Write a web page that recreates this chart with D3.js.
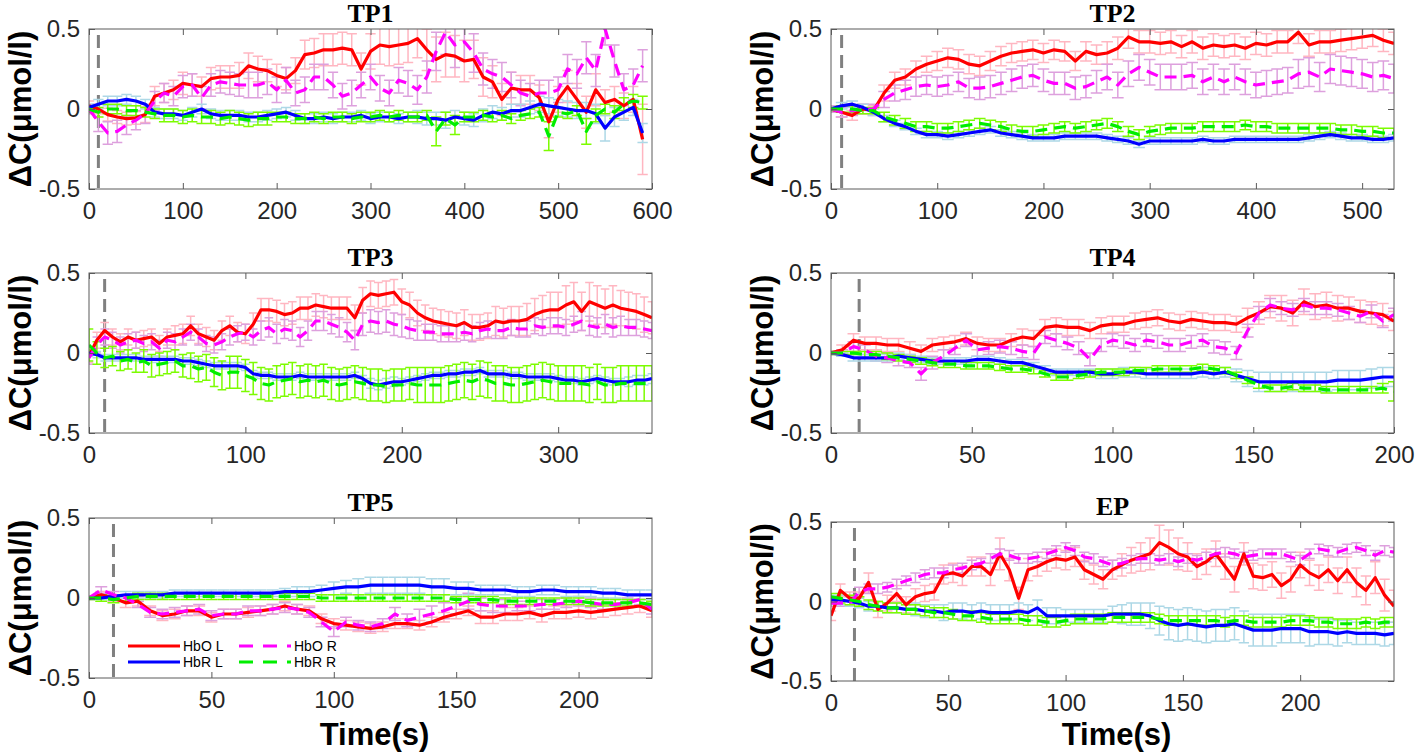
<!DOCTYPE html>
<html><head><meta charset="utf-8">
<script src="https://cdn.jsdelivr.net/npm/d3@7"></script>
<style>body{margin:0;background:#fff;} svg{display:block;}</style>
</head><body>
<script>
// ---------------- DATA ----------------
const panelTitles = ['TP1','TP2','TP3','TP4','TP5','EP'];
const timeSteps = [10,10,5,4,5,4];
const xMaxes = [600,530,360,200,230,240];
const xTickValues = [[0,100,200,300,400,500,600],[0,100,200,300,400,500],[0,100,200,300],[0,50,100,150,200],[0,50,100,150,200],[0,50,100,150,200]];
const yTickValues = [-0.5,0,0.5];
const stimulusTime = 10;
const seriesNames = ['HbO L','HbR L','HbO R','HbR R'];

// TP1 (t = 0..590, step 10)
const tp1HboL = [0.02,0.0,-0.035,-0.05,-0.06,-0.055,-0.035,0.08,0.1,0.12,
 0.16,0.15,0.14,0.19,0.2,0.2,0.21,0.27,0.25,0.24,
 0.21,0.19,0.24,0.34,0.35,0.37,0.37,0.38,0.37,0.25,
 0.36,0.4,0.39,0.4,0.41,0.44,0.37,0.31,0.34,0.33,
 0.3,0.31,0.2,0.17,0.06,0.13,0.12,0.12,0.07,-0.08,
 0.06,0.14,0.06,-0.02,0.12,0.04,0.06,0.02,0.06,-0.19];
const tp1HboLErr = [0.03,0.03,0.04,0.04,0.04,0.04,0.05,0.06,0.06,0.06,
 0.07,0.07,0.06,0.07,0.07,0.07,0.08,0.08,0.08,0.07,
 0.07,0.07,0.08,0.09,0.09,0.1,0.1,0.1,0.1,0.1,
 0.11,0.12,0.12,0.12,0.12,0.12,0.13,0.14,0.14,0.13,
 0.13,0.12,0.12,0.1,0.1,0.1,0.09,0.09,0.08,0.1,
 0.08,0.1,0.1,0.1,0.1,0.08,0.08,0.08,0.08,0.22];
const tp1HboR = [0.0,-0.08,-0.15,-0.14,-0.1,-0.07,-0.03,0.05,0.1,0.08,
 0.14,0.15,0.07,0.15,0.17,0.16,0.15,0.15,0.15,0.17,
 0.12,0.18,0.1,0.12,0.2,0.2,0.15,0.08,0.1,0.15,
 0.2,0.13,0.1,0.18,0.16,0.12,0.2,0.36,0.48,0.4,
 0.42,0.35,0.25,0.22,0.2,0.15,0.1,0.08,0.1,0.1,
 0.12,0.25,0.22,0.32,0.24,0.5,0.3,0.12,0.15,0.27];
const tp1HboRErr = [0.03,0.06,0.07,0.07,0.06,0.06,0.06,0.06,0.06,0.06,
 0.07,0.07,0.07,0.07,0.07,0.07,0.07,0.08,0.08,0.08,
 0.08,0.08,0.08,0.08,0.08,0.08,0.08,0.08,0.08,0.08,
 0.08,0.08,0.08,0.08,0.08,0.09,0.1,0.12,0.14,0.14,
 0.12,0.12,0.1,0.09,0.09,0.08,0.08,0.08,0.08,0.08,
 0.08,0.09,0.09,0.1,0.1,0.1,0.1,0.1,0.1,0.1];
const tp1HbrL = [0.01,0.03,0.05,0.05,0.06,0.05,0.03,-0.02,-0.03,-0.03,
 -0.04,-0.02,0.0,-0.03,-0.04,-0.04,-0.04,-0.05,-0.05,-0.04,
 -0.03,-0.02,-0.04,-0.06,-0.06,-0.05,-0.06,-0.05,-0.05,-0.04,
 -0.06,-0.05,-0.05,-0.06,-0.05,-0.05,-0.06,-0.06,-0.07,-0.05,
 -0.06,-0.07,-0.04,-0.02,-0.03,-0.01,-0.01,0.01,0.03,0.02,
 0.01,0.0,-0.01,-0.01,-0.03,-0.12,-0.05,-0.02,0.01,-0.15];
const tp1HbrLErr = [0.02,0.03,0.03,0.03,0.03,0.03,0.03,0.03,0.03,0.03,
 0.03,0.03,0.03,0.03,0.03,0.03,0.03,0.03,0.03,0.03,
 0.03,0.03,0.03,0.03,0.03,0.03,0.03,0.03,0.03,0.03,
 0.03,0.03,0.03,0.03,0.03,0.04,0.04,0.04,0.05,0.04,
 0.04,0.04,0.04,0.04,0.04,0.04,0.04,0.04,0.05,0.05,
 0.05,0.05,0.05,0.05,0.06,0.08,0.06,0.05,0.05,0.06];
const tp1HbrR = [0.0,-0.02,0.0,0.0,-0.01,-0.01,-0.02,-0.03,-0.04,-0.04,
 -0.05,-0.04,-0.05,-0.05,-0.06,-0.05,-0.06,-0.07,-0.06,-0.06,
 -0.05,-0.05,-0.06,-0.06,-0.05,-0.06,-0.05,-0.05,-0.06,-0.05,
 -0.05,-0.04,-0.05,-0.04,-0.05,-0.05,-0.04,-0.14,-0.06,-0.1,
 -0.05,-0.05,-0.04,-0.05,-0.04,-0.06,-0.04,-0.03,-0.02,-0.17,
 -0.02,-0.03,-0.01,-0.14,-0.04,0.0,-0.02,0.03,0.05,0.04];
const tp1HbrRErr = [0.02,0.03,0.03,0.03,0.03,0.03,0.03,0.03,0.04,0.04,
 0.04,0.04,0.04,0.04,0.04,0.04,0.04,0.04,0.04,0.04,
 0.03,0.03,0.03,0.03,0.03,0.03,0.03,0.03,0.03,0.03,
 0.03,0.03,0.03,0.03,0.03,0.03,0.03,0.09,0.04,0.06,
 0.03,0.03,0.03,0.03,0.03,0.03,0.03,0.03,0.03,0.09,
 0.03,0.03,0.03,0.08,0.04,0.03,0.04,0.04,0.04,0.04];

// TP2 (t = 0..530, step 10)
const tp2HboL = [0.0,-0.02,-0.04,0.0,-0.01,0.1,0.18,0.2,0.25,0.28,
 0.3,0.32,0.31,0.28,0.27,0.3,0.33,0.35,0.36,0.37,
 0.35,0.37,0.36,0.3,0.36,0.34,0.35,0.38,0.45,0.42,
 0.42,0.41,0.42,0.39,0.42,0.38,0.4,0.39,0.4,0.38,
 0.41,0.4,0.42,0.42,0.48,0.4,0.42,0.42,0.43,0.44,
 0.45,0.46,0.43,0.41];
const tp2HboLErr = [0.02,0.03,0.03,0.03,0.03,0.05,0.05,0.05,0.05,0.05,
 0.06,0.06,0.06,0.06,0.06,0.06,0.06,0.06,0.06,0.06,
 0.06,0.06,0.06,0.06,0.06,0.06,0.07,0.07,0.07,0.07,
 0.07,0.07,0.07,0.07,0.07,0.07,0.07,0.07,0.07,0.07,
 0.07,0.07,0.07,0.07,0.07,0.07,0.07,0.07,0.07,0.07,
 0.07,0.07,0.07,0.07];
const tp2HboR = [0.0,-0.02,-0.01,0.0,0.0,0.06,0.1,0.12,0.14,0.15,
 0.14,0.15,0.17,0.13,0.13,0.14,0.16,0.18,0.2,0.21,
 0.18,0.16,0.16,0.13,0.14,0.17,0.2,0.15,0.22,0.26,
 0.23,0.2,0.2,0.2,0.21,0.17,0.2,0.17,0.2,0.17,
 0.15,0.16,0.17,0.18,0.22,0.23,0.2,0.25,0.24,0.23,
 0.22,0.2,0.21,0.19];
const tp2HboRErr = [0.02,0.03,0.03,0.03,0.03,0.05,0.05,0.06,0.06,0.06,
 0.06,0.06,0.06,0.06,0.07,0.07,0.07,0.07,0.07,0.07,
 0.07,0.07,0.07,0.07,0.07,0.07,0.08,0.08,0.08,0.08,
 0.08,0.08,0.08,0.08,0.08,0.08,0.08,0.08,0.08,0.08,
 0.08,0.08,0.08,0.08,0.09,0.09,0.09,0.09,0.09,0.09,
 0.09,0.09,0.09,0.09];
const tp2HbrL = [0.0,0.02,0.03,0.01,-0.02,-0.06,-0.09,-0.11,-0.14,-0.16,
 -0.16,-0.17,-0.16,-0.15,-0.14,-0.13,-0.15,-0.16,-0.17,-0.18,
 -0.18,-0.18,-0.17,-0.17,-0.17,-0.17,-0.18,-0.19,-0.2,-0.22,
 -0.2,-0.2,-0.2,-0.2,-0.2,-0.19,-0.2,-0.2,-0.19,-0.19,
 -0.19,-0.19,-0.19,-0.19,-0.19,-0.18,-0.17,-0.16,-0.17,-0.18,
 -0.18,-0.19,-0.19,-0.18];
const tp2HbrLErr = [0.01,0.02,0.02,0.02,0.02,0.02,0.02,0.02,0.02,0.02,
 0.02,0.02,0.02,0.02,0.02,0.02,0.02,0.02,0.02,0.02,
 0.02,0.02,0.02,0.02,0.02,0.02,0.02,0.02,0.02,0.02,
 0.02,0.02,0.02,0.02,0.02,0.02,0.02,0.02,0.02,0.02,
 0.02,0.02,0.02,0.02,0.02,0.02,0.02,0.02,0.02,0.02,
 0.02,0.02,0.02,0.02];
const tp2HbrR = [0.0,0.0,0.0,-0.01,-0.01,-0.05,-0.07,-0.09,-0.11,-0.11,
 -0.12,-0.12,-0.11,-0.1,-0.09,-0.1,-0.11,-0.13,-0.14,-0.14,
 -0.13,-0.12,-0.11,-0.12,-0.11,-0.1,-0.09,-0.11,-0.14,-0.16,
 -0.14,-0.13,-0.12,-0.12,-0.12,-0.11,-0.11,-0.11,-0.11,-0.1,
 -0.11,-0.11,-0.12,-0.12,-0.12,-0.12,-0.12,-0.12,-0.13,-0.13,
 -0.14,-0.14,-0.15,-0.15];
const tp2HbrRErr = [0.01,0.02,0.02,0.02,0.02,0.03,0.03,0.03,0.03,0.03,
 0.03,0.03,0.03,0.03,0.03,0.03,0.03,0.03,0.03,0.03,
 0.03,0.03,0.03,0.03,0.03,0.03,0.03,0.03,0.03,0.03,
 0.03,0.03,0.03,0.03,0.03,0.03,0.03,0.03,0.03,0.03,
 0.03,0.03,0.03,0.03,0.03,0.03,0.03,0.03,0.03,0.03,
 0.03,0.03,0.03,0.03];

// TP3 (t = 0..360, step 5)
const tp3HboL = [-0.02,0.08,0.14,0.1,0.07,0.1,0.08,0.09,0.1,0.06,
 0.1,0.11,0.12,0.17,0.12,0.1,0.08,0.14,0.17,0.13,
 0.12,0.18,0.27,0.27,0.26,0.24,0.25,0.28,0.28,0.3,
 0.29,0.28,0.28,0.28,0.22,0.33,0.37,0.36,0.37,0.38,
 0.32,0.3,0.25,0.22,0.2,0.19,0.18,0.17,0.19,0.16,
 0.16,0.17,0.2,0.19,0.2,0.2,0.21,0.24,0.26,0.27,
 0.27,0.3,0.32,0.26,0.32,0.3,0.28,0.3,0.28,0.27,
 0.26,0.24,0.22];
const tp3HboLErr = [0.04,0.05,0.05,0.05,0.05,0.05,0.05,0.05,0.05,0.05,
 0.05,0.06,0.06,0.06,0.06,0.06,0.06,0.06,0.06,0.06,
 0.06,0.07,0.07,0.07,0.07,0.07,0.07,0.07,0.07,0.07,
 0.07,0.07,0.07,0.07,0.08,0.08,0.08,0.08,0.08,0.08,
 0.08,0.08,0.08,0.08,0.08,0.08,0.08,0.08,0.08,0.08,
 0.08,0.08,0.09,0.09,0.09,0.09,0.1,0.1,0.1,0.11,
 0.11,0.12,0.12,0.12,0.12,0.12,0.12,0.12,0.11,0.11,
 0.11,0.11,0.1];
const tp3HboR = [-0.03,0.05,0.1,0.08,0.05,0.07,0.08,0.06,0.07,0.03,
 0.08,0.07,0.1,0.13,0.1,0.06,0.05,0.07,0.1,0.12,
 0.13,0.1,0.14,0.16,0.12,0.15,0.14,0.1,0.14,0.2,
 0.2,0.18,0.16,0.13,0.08,0.18,0.2,0.19,0.2,0.18,
 0.17,0.15,0.14,0.13,0.13,0.12,0.12,0.12,0.13,0.12,
 0.14,0.15,0.14,0.14,0.16,0.15,0.15,0.17,0.16,0.17,
 0.17,0.16,0.18,0.2,0.17,0.16,0.18,0.16,0.17,0.16,
 0.16,0.15,0.14];
const tp3HboRErr = [0.04,0.05,0.05,0.05,0.05,0.05,0.05,0.05,0.05,0.05,
 0.05,0.05,0.05,0.05,0.05,0.05,0.05,0.05,0.05,0.05,
 0.05,0.05,0.06,0.06,0.06,0.06,0.06,0.06,0.06,0.06,
 0.06,0.06,0.06,0.06,0.06,0.07,0.07,0.07,0.07,0.07,
 0.07,0.06,0.06,0.05,0.05,0.05,0.05,0.05,0.05,0.05,
 0.05,0.05,0.05,0.05,0.05,0.05,0.05,0.05,0.05,0.05,
 0.05,0.05,0.05,0.06,0.06,0.06,0.06,0.06,0.06,0.05,
 0.05,0.05,0.05];
const tp3HbrL = [0.0,-0.01,-0.03,-0.03,-0.03,-0.03,-0.03,-0.04,-0.04,-0.04,
 -0.04,-0.04,-0.05,-0.05,-0.06,-0.07,-0.08,-0.08,-0.08,-0.08,
 -0.09,-0.13,-0.14,-0.14,-0.15,-0.15,-0.15,-0.14,-0.15,-0.15,
 -0.15,-0.15,-0.15,-0.15,-0.14,-0.16,-0.19,-0.2,-0.19,-0.18,
 -0.18,-0.17,-0.16,-0.15,-0.14,-0.14,-0.13,-0.13,-0.12,-0.12,
 -0.11,-0.13,-0.13,-0.13,-0.14,-0.14,-0.15,-0.15,-0.15,-0.15,
 -0.16,-0.17,-0.17,-0.18,-0.17,-0.16,-0.17,-0.18,-0.18,-0.18,
 -0.17,-0.17,-0.16];
const tp3HbrLErr = [0.02,0.02,0.02,0.02,0.02,0.02,0.02,0.02,0.02,0.02,
 0.02,0.02,0.02,0.02,0.02,0.02,0.02,0.02,0.02,0.02,
 0.02,0.02,0.02,0.02,0.02,0.02,0.02,0.02,0.02,0.02,
 0.02,0.02,0.02,0.02,0.02,0.02,0.03,0.03,0.03,0.03,
 0.02,0.02,0.02,0.02,0.02,0.02,0.02,0.02,0.02,0.02,
 0.02,0.02,0.02,0.02,0.02,0.02,0.02,0.02,0.02,0.02,
 0.02,0.02,0.02,0.02,0.02,0.02,0.02,0.02,0.02,0.03,
 0.03,0.03,0.03];
const tp3HbrR = [0.05,0.0,-0.03,-0.02,-0.05,-0.04,-0.06,-0.05,-0.08,-0.07,
 -0.06,-0.05,-0.08,-0.08,-0.1,-0.09,-0.12,-0.14,-0.12,-0.12,
 -0.14,-0.16,-0.19,-0.2,-0.18,-0.17,-0.16,-0.18,-0.17,-0.18,
 -0.17,-0.19,-0.2,-0.19,-0.18,-0.19,-0.2,-0.2,-0.21,-0.2,
 -0.2,-0.19,-0.2,-0.2,-0.2,-0.2,-0.19,-0.18,-0.17,-0.18,
 -0.16,-0.17,-0.19,-0.19,-0.2,-0.2,-0.19,-0.18,-0.17,-0.18,
 -0.19,-0.19,-0.19,-0.19,-0.2,-0.18,-0.2,-0.2,-0.19,-0.19,
 -0.19,-0.19,-0.19];
const tp3HbrRErr = [0.1,0.07,0.06,0.06,0.06,0.06,0.06,0.07,0.07,0.07,
 0.07,0.07,0.07,0.08,0.08,0.08,0.09,0.09,0.1,0.1,
 0.1,0.1,0.1,0.1,0.1,0.1,0.1,0.1,0.1,0.1,
 0.1,0.1,0.1,0.1,0.1,0.1,0.1,0.1,0.1,0.1,
 0.1,0.1,0.11,0.11,0.11,0.11,0.11,0.11,0.11,0.11,
 0.11,0.11,0.11,0.11,0.11,0.11,0.11,0.11,0.11,0.11,
 0.11,0.11,0.11,0.11,0.11,0.11,0.11,0.11,0.11,0.11,
 0.11,0.11,0.11];

// TP4 (t = 0..200, step 4)
const tp4HboL = [0,0.02,0.08,0.06,0.06,0.05,0.05,0.03,0.01,0.05,
 0.06,0.07,0.09,0.06,0.05,0.05,0.08,0.1,0.09,0.16,
 0.17,0.16,0.16,0.14,0.17,0.18,0.18,0.2,0.21,0.22,
 0.2,0.19,0.21,0.2,0.19,0.19,0.18,0.22,0.25,0.29,
 0.28,0.25,0.32,0.29,0.3,0.28,0.28,0.26,0.25,0.24,
 0.2];
const tp4HboLErr = [0.01,0.03,0.04,0.04,0.04,0.04,0.04,0.04,0.04,0.04,
 0.04,0.04,0.04,0.04,0.04,0.04,0.04,0.05,0.05,0.05,
 0.05,0.05,0.05,0.05,0.05,0.05,0.05,0.05,0.05,0.05,
 0.05,0.05,0.05,0.05,0.05,0.05,0.05,0.06,0.07,0.07,
 0.08,0.08,0.08,0.08,0.08,0.08,0.07,0.07,0.07,0.07,
 0.06];
const tp4HboR = [0,0.0,0.04,0.02,-0.02,-0.03,-0.05,-0.06,-0.13,-0.06,
 -0.02,0.03,0.08,0.02,0.03,0.04,0.03,0.01,0.0,0.1,
 0.08,0.06,0.03,-0.04,0.05,0.08,0.07,0.05,0.08,0.07,
 0.05,0.05,0.07,0.08,0.04,0.03,0.0,0.14,0.25,0.3,
 0.28,0.27,0.3,0.28,0.28,0.27,0.25,0.23,0.26,0.2,
 0.24];
const tp4HboRErr = [0.01,0.02,0.03,0.03,0.03,0.03,0.03,0.03,0.04,0.04,
 0.04,0.04,0.04,0.04,0.04,0.04,0.04,0.04,0.04,0.04,
 0.04,0.04,0.04,0.04,0.04,0.04,0.04,0.04,0.04,0.04,
 0.04,0.04,0.04,0.04,0.04,0.04,0.04,0.04,0.04,0.04,
 0.04,0.04,0.04,0.04,0.04,0.04,0.04,0.04,0.04,0.04,
 0.04];
const tp4HbrL = [0,-0.01,-0.03,-0.03,-0.03,-0.03,-0.02,-0.03,-0.04,-0.05,
 -0.05,-0.05,-0.05,-0.04,-0.04,-0.05,-0.06,-0.06,-0.08,-0.1,
 -0.12,-0.12,-0.12,-0.12,-0.13,-0.13,-0.12,-0.12,-0.13,-0.13,
 -0.13,-0.13,-0.13,-0.12,-0.13,-0.12,-0.14,-0.16,-0.18,-0.18,
 -0.18,-0.18,-0.18,-0.18,-0.18,-0.17,-0.17,-0.17,-0.16,-0.15,
 -0.15];
const tp4HbrLErr = [0.01,0.01,0.02,0.02,0.02,0.02,0.02,0.02,0.02,0.02,
 0.02,0.02,0.02,0.02,0.02,0.02,0.02,0.02,0.02,0.02,
 0.02,0.02,0.02,0.02,0.03,0.03,0.03,0.03,0.03,0.03,
 0.03,0.03,0.03,0.03,0.03,0.03,0.04,0.05,0.06,0.06,
 0.06,0.06,0.06,0.06,0.06,0.06,0.06,0.06,0.06,0.06,
 0.06];
const tp4HbrR = [0,0,0,-0.01,-0.01,-0.02,-0.03,-0.04,-0.05,-0.06,
 -0.07,-0.07,-0.08,-0.08,-0.08,-0.09,-0.1,-0.1,-0.11,-0.13,
 -0.15,-0.15,-0.14,-0.13,-0.12,-0.12,-0.12,-0.11,-0.11,-0.1,
 -0.1,-0.1,-0.1,-0.09,-0.1,-0.11,-0.14,-0.17,-0.2,-0.22,
 -0.22,-0.21,-0.22,-0.22,-0.23,-0.23,-0.23,-0.23,-0.23,-0.22,
 -0.24];
const tp4HbrRErr = [0.01,0.01,0.01,0.02,0.02,0.02,0.02,0.02,0.02,0.02,
 0.02,0.02,0.02,0.02,0.02,0.02,0.02,0.02,0.02,0.02,
 0.02,0.02,0.02,0.02,0.02,0.02,0.02,0.02,0.02,0.02,
 0.02,0.02,0.02,0.02,0.02,0.02,0.02,0.02,0.02,0.02,
 0.02,0.02,0.02,0.02,0.02,0.02,0.02,0.02,0.02,0.03,
 0.06];

// TP5 (t = 0..230, step 5)
const tp5HboL = [0,0.02,0.0,-0.03,-0.02,-0.08,-0.11,-0.1,-0.08,-0.08,
 -0.12,-0.1,-0.1,-0.09,-0.08,-0.07,-0.05,-0.07,-0.08,-0.13,
 -0.16,-0.17,-0.18,-0.19,-0.18,-0.16,-0.16,-0.17,-0.15,-0.12,
 -0.1,-0.08,-0.12,-0.12,-0.1,-0.1,-0.09,-0.11,-0.09,-0.09,
 -0.08,-0.09,-0.08,-0.07,-0.06,-0.05,-0.08];
const tp5HboLErr = [0.01,0.02,0.02,0.03,0.03,0.03,0.03,0.03,0.03,0.03,
 0.03,0.03,0.03,0.03,0.03,0.03,0.03,0.03,0.03,0.03,
 0.03,0.03,0.03,0.03,0.03,0.03,0.03,0.03,0.03,0.03,
 0.03,0.03,0.04,0.04,0.04,0.04,0.04,0.04,0.04,0.04,
 0.04,0.04,0.04,0.04,0.04,0.04,0.04];
const tp5HboR = [0,0.05,0.02,0.0,-0.04,-0.09,-0.1,-0.09,-0.08,-0.07,
 -0.11,-0.1,-0.1,-0.08,-0.08,-0.07,-0.06,-0.07,-0.09,-0.15,
 -0.21,-0.15,-0.17,-0.18,-0.16,-0.1,-0.14,-0.12,-0.1,-0.08,
 -0.05,-0.02,-0.04,-0.05,-0.05,-0.05,-0.05,-0.04,-0.04,-0.03,
 -0.02,-0.03,-0.04,-0.04,-0.03,-0.01,-0.07];
const tp5HboRErr = [0.01,0.02,0.02,0.02,0.02,0.03,0.03,0.03,0.03,0.03,
 0.03,0.03,0.03,0.03,0.03,0.03,0.03,0.03,0.03,0.03,
 0.03,0.03,0.03,0.03,0.03,0.04,0.04,0.05,0.05,0.05,
 0.05,0.05,0.04,0.04,0.04,0.03,0.03,0.03,0.03,0.03,
 0.03,0.03,0.03,0.03,0.03,0.03,0.03];
const tp5HbrL = [0,0,0.01,0.02,0.02,0.02,0.02,0.03,0.03,0.03,
 0.03,0.03,0.03,0.03,0.03,0.03,0.04,0.04,0.04,0.05,
 0.06,0.07,0.07,0.08,0.08,0.08,0.08,0.08,0.07,0.07,
 0.06,0.06,0.05,0.05,0.05,0.04,0.04,0.05,0.05,0.04,
 0.04,0.04,0.03,0.03,0.02,0.02,0.02];
const tp5HbrLErr = [0.01,0.01,0.01,0.02,0.02,0.02,0.02,0.02,0.02,0.02,
 0.02,0.02,0.02,0.02,0.02,0.02,0.02,0.03,0.03,0.03,
 0.04,0.04,0.05,0.05,0.05,0.05,0.05,0.05,0.05,0.05,
 0.04,0.04,0.03,0.03,0.03,0.03,0.03,0.03,0.03,0.03,
 0.03,0.03,0.03,0.03,0.03,0.03,0.03];
const tp5HbrR = [0,0,-0.01,0,0.01,0.01,0.01,0.01,0.01,0.01,
 0.01,0.01,0.01,0.01,0.01,0.01,0.01,0.01,0.01,0.0,
 0.0,0.0,0.0,0.0,0.0,0.0,0.0,0.0,0.0,0.0,
 -0.01,-0.01,-0.01,-0.01,-0.02,-0.02,-0.02,-0.02,-0.02,-0.02,
 -0.02,-0.03,-0.03,-0.03,-0.03,-0.03,-0.04];
const tp5HbrRErr = [0.01,0.02,0.02,0.02,0.02,0.02,0.02,0.02,0.02,0.02,
 0.02,0.02,0.02,0.02,0.02,0.02,0.02,0.02,0.02,0.02,
 0.02,0.02,0.02,0.02,0.02,0.02,0.02,0.02,0.02,0.02,
 0.02,0.02,0.02,0.02,0.02,0.02,0.02,0.02,0.02,0.02,
 0.02,0.02,0.02,0.02,0.02,0.02,0.02];

// EP (t = 0..240, step 4)
const epHboL = [-0.09,0.07,0.02,0.02,0.12,-0.05,-0.01,0.05,-0.02,0.03,
 0.05,0.06,0.17,0.18,0.16,0.22,0.22,0.17,0.3,0.2,
 0.02,0.2,0.22,0.25,0.27,0.26,0.28,0.2,0.17,0.14,
 0.2,0.23,0.26,0.28,0.3,0.37,0.34,0.3,0.28,0.22,
 0.25,0.3,0.22,0.14,0.3,0.16,0.15,0.17,0.1,0.14,
 0.23,0.18,0.15,0.2,0.13,0.2,0.12,0.07,0.15,0.04,
 -0.03];
const epHboLErr = [0.03,0.04,0.04,0.04,0.06,0.05,0.05,0.05,0.05,0.05,
 0.05,0.05,0.06,0.06,0.06,0.06,0.06,0.07,0.1,0.07,
 0.07,0.07,0.06,0.06,0.06,0.06,0.06,0.06,0.06,0.06,
 0.06,0.07,0.08,0.09,0.1,0.11,0.11,0.1,0.09,0.08,
 0.08,0.08,0.08,0.08,0.07,0.08,0.08,0.08,0.08,0.08,
 0.08,0.08,0.08,0.08,0.08,0.08,0.09,0.09,0.1,0.1,
 0.1];
const epHboR = [-0.01,-0.01,-0.01,0.06,0.08,0.08,0.09,0.11,0.13,0.15,
 0.17,0.18,0.18,0.2,0.21,0.23,0.24,0.27,0.3,0.29,
 0.27,0.27,0.28,0.3,0.32,0.34,0.32,0.28,0.27,0.25,
 0.23,0.24,0.26,0.27,0.27,0.26,0.27,0.25,0.27,0.26,
 0.28,0.3,0.31,0.3,0.28,0.29,0.3,0.3,0.3,0.28,
 0.26,0.3,0.33,0.32,0.31,0.33,0.34,0.32,0.29,0.32,
 0.31];
const epHboRErr = [0.02,0.02,0.02,0.03,0.03,0.03,0.03,0.03,0.03,0.03,
 0.03,0.03,0.03,0.03,0.03,0.03,0.03,0.03,0.03,0.03,
 0.03,0.03,0.03,0.03,0.03,0.03,0.03,0.03,0.03,0.03,
 0.03,0.03,0.03,0.03,0.03,0.03,0.03,0.03,0.03,0.03,
 0.03,0.03,0.03,0.03,0.03,0.03,0.03,0.03,0.03,0.03,
 0.03,0.03,0.03,0.03,0.03,0.03,0.03,0.03,0.03,0.03,
 0.03];
const epHbrL = [0.01,0.01,0.0,-0.01,-0.03,-0.03,-0.04,-0.04,-0.05,-0.05,
 -0.06,-0.06,-0.07,-0.06,-0.06,-0.07,-0.06,-0.07,-0.07,-0.07,
 -0.06,-0.07,-0.04,-0.09,-0.09,-0.09,-0.09,-0.09,-0.09,-0.09,
 -0.08,-0.08,-0.08,-0.08,-0.09,-0.12,-0.14,-0.15,-0.14,-0.15,
 -0.16,-0.15,-0.15,-0.14,-0.16,-0.18,-0.18,-0.18,-0.17,-0.17,
 -0.17,-0.19,-0.19,-0.19,-0.2,-0.19,-0.2,-0.2,-0.2,-0.21,
 -0.2];
const epHbrLErr = [0.03,0.03,0.03,0.03,0.03,0.03,0.03,0.03,0.03,0.04,
 0.04,0.04,0.05,0.05,0.05,0.05,0.05,0.05,0.05,0.05,
 0.05,0.05,0.05,0.05,0.05,0.04,0.04,0.04,0.04,0.04,
 0.05,0.06,0.07,0.07,0.08,0.09,0.1,0.1,0.1,0.1,
 0.1,0.1,0.1,0.1,0.1,0.1,0.1,0.1,0.09,0.09,
 0.09,0.09,0.08,0.08,0.08,0.07,0.07,0.07,0.07,0.07,
 0.07];
const epHbrR = [0.03,0.02,0.01,0.0,-0.02,-0.03,-0.04,-0.04,-0.05,-0.05,
 -0.06,-0.07,-0.07,-0.08,-0.09,-0.09,-0.1,-0.11,-0.11,-0.11,
 -0.11,-0.12,-0.12,-0.13,-0.13,-0.12,-0.11,-0.11,-0.11,-0.11,
 -0.1,-0.1,-0.1,-0.1,-0.1,-0.11,-0.12,-0.12,-0.12,-0.12,
 -0.12,-0.12,-0.13,-0.12,-0.12,-0.13,-0.13,-0.13,-0.13,-0.12,
 -0.12,-0.12,-0.13,-0.13,-0.14,-0.14,-0.14,-0.13,-0.14,-0.13,
 -0.13];
const epHbrRErr = [0.02,0.03,0.03,0.03,0.03,0.03,0.03,0.03,0.03,0.03,
 0.03,0.03,0.03,0.03,0.03,0.03,0.03,0.03,0.03,0.03,
 0.03,0.03,0.03,0.03,0.03,0.03,0.03,0.03,0.03,0.03,
 0.03,0.03,0.03,0.03,0.03,0.03,0.03,0.03,0.03,0.03,
 0.03,0.03,0.03,0.03,0.03,0.03,0.03,0.03,0.03,0.03,
 0.03,0.03,0.03,0.03,0.03,0.03,0.03,0.03,0.03,0.03,
 0.03];

// per-panel series: [HbO L, HbR L, HbO R, HbR R]
const panelMeans = [
  [tp1HboL, tp1HbrL, tp1HboR, tp1HbrR],
  [tp2HboL, tp2HbrL, tp2HboR, tp2HbrR],
  [tp3HboL, tp3HbrL, tp3HboR, tp3HbrR],
  [tp4HboL, tp4HbrL, tp4HboR, tp4HbrR],
  [tp5HboL, tp5HbrL, tp5HboR, tp5HbrR],
  [epHboL, epHbrL, epHboR, epHbrR]
];
const panelErrs = [
  [tp1HboLErr, tp1HbrLErr, tp1HboRErr, tp1HbrRErr],
  [tp2HboLErr, tp2HbrLErr, tp2HboRErr, tp2HbrRErr],
  [tp3HboLErr, tp3HbrLErr, tp3HboRErr, tp3HbrRErr],
  [tp4HboLErr, tp4HbrLErr, tp4HboRErr, tp4HbrRErr],
  [tp5HboLErr, tp5HbrLErr, tp5HboRErr, tp5HbrRErr],
  [epHboLErr, epHbrLErr, epHboRErr, epHbrRErr]
];

// ---------------- STYLE / LAYOUT ----------------
const lineColors = ['#ff0000','#0000ff','#ff00ff','#00ee00'];
const errColors = ['#ffb6c1','#add8e6','#dda0dd','#7cfc00'];
const dashes = [null, null, '12,7', '12,7'];
const errOrder = [0,2,1,3];
const lineOrder = [0,1,2,3];
const boxes = [
  {l:89, r:652, t:29, b:189},
  {l:831, r:1394, t:29, b:189},
  {l:89, r:652, t:273, b:433},
  {l:831, r:1394, t:273, b:433},
  {l:89, r:652, t:518, b:678},
  {l:831, r:1394, t:522, b:681}
];
const sansFont = "'Liberation Sans', Arial, Helvetica, sans-serif";
const serifFont = "'Liberation Serif', 'Times New Roman', serif";

const svg = d3.select('body').append('svg').attr('width',1416).attr('height',754)
  .style('background','#fff');
const defs = svg.append('defs');

panelTitles.forEach((title, pi) => {
  const bx = boxes[pi];
  const x = d3.scaleLinear().domain([0, xMaxes[pi]]).range([bx.l, bx.r]);
  const y = d3.scaleLinear().domain([-0.5, 0.5]).range([bx.b, bx.t]);
  const g = svg.append('g');

  defs.append('clipPath').attr('id','clip'+pi).append('rect')
    .attr('x',bx.l).attr('y',bx.t).attr('width',bx.r-bx.l).attr('height',bx.b-bx.t);

  const plot = g.append('g').attr('clip-path','url(#clip'+pi+')');

  // stimulus onset line
  plot.append('line')
    .attr('x1',x(stimulusTime)).attr('x2',x(stimulusTime))
    .attr('y1',y(0.5)).attr('y2',y(-0.5))
    .attr('stroke','#808080').attr('stroke-width',3)
    .attr('stroke-dasharray','13,7').attr('stroke-dashoffset',14);

  const means = panelMeans[pi], errs = panelErrs[pi];
  const step = timeSteps[pi];
  const spacing = x(step) - x(0);
  const cap = Math.max(3.5, Math.min(6, spacing*0.55));

  // error bars
  errOrder.forEach(si => {
    const m = means[si], e = errs[si];
    const n = Math.min(m.length, e.length);
    let d = '';
    for (let i = 0; i < n; i++) {
      const px = x(i*step), y1 = y(m[i]-e[i]), y2 = y(m[i]+e[i]);
      d += `M${px},${y1}V${y2}M${px-cap},${y1}H${px+cap}M${px-cap},${y2}H${px+cap}`;
    }
    plot.append('path').attr('d',d).attr('fill','none')
      .attr('stroke',errColors[si]).attr('stroke-width',1.5);
  });

  // mean lines
  lineOrder.forEach(si => {
    const m = means[si];
    const pts = m.map((v,i) => [i*step, v]);
    const line = d3.line().x(d => x(d[0])).y(d => y(d[1]));
    const p = plot.append('path').attr('d', line(pts)).attr('fill','none')
      .attr('stroke', lineColors[si]).attr('stroke-width',3.2)
      .attr('stroke-linejoin','round');
    if (dashes[si]) p.attr('stroke-dasharray', dashes[si]);
  });

  // box
  g.append('rect').attr('x',bx.l).attr('y',bx.t).attr('width',bx.r-bx.l).attr('height',bx.b-bx.t)
    .attr('fill','none').attr('stroke','#5a5a5a').attr('stroke-width',1);

  // axes
  const styleAxis = sel => {
    sel.select('.domain').remove();
    sel.selectAll('.tick line').attr('stroke','#5a5a5a');
    sel.selectAll('.tick text').attr('fill','#262626')
      .style('font-family', sansFont).style('font-size','24px');
  };
  g.append('g').attr('transform',`translate(0,${bx.b})`)
    .call(d3.axisBottom(x).tickValues(xTickValues[pi]).tickSizeInner(-6).tickSizeOuter(0).tickPadding(13).tickFormat(d => String(d)))
    .call(styleAxis);
  g.append('g').attr('transform',`translate(0,${bx.t})`)
    .call(d3.axisTop(x).tickValues(xTickValues[pi]).tickSizeInner(-6).tickSizeOuter(0).tickFormat(''))
    .call(styleAxis);
  g.append('g').attr('transform',`translate(${bx.l},0)`)
    .call(d3.axisLeft(y).tickValues(yTickValues).tickSizeInner(-6).tickSizeOuter(0).tickPadding(9).tickFormat(d => String(d)))
    .call(styleAxis);
  g.append('g').attr('transform',`translate(${bx.r},0)`)
    .call(d3.axisRight(y).tickValues(yTickValues).tickSizeInner(-6).tickSizeOuter(0).tickFormat(''))
    .call(styleAxis);

  // title
  g.append('text').attr('x',(bx.l+bx.r)/2).attr('y',bx.t-7)
    .attr('text-anchor','middle').style('font-family',serifFont)
    .style('font-weight','bold').style('font-size','26px').attr('fill','#000').text(title);

  // y label
  const ly = (bx.t+bx.b)/2, lx = bx.l-69;
  g.append('text').attr('transform',`translate(${lx},${ly}) rotate(-90)`)
    .attr('text-anchor','middle').attr('dominant-baseline','central')
    .style('font-family',sansFont).style('font-weight','bold').style('font-size','31px')
    .attr('fill','#000').text('ΔC(μmol/l)');

  // x label only on bottom row
  if (pi >= 4) {
    g.append('text').attr('x',(bx.l+bx.r)/2+4).attr('y',745)
      .attr('text-anchor','middle').style('font-family',sansFont)
      .style('font-weight','bold').style('font-size','31px').attr('fill','#000').text('Time(s)');
  }

  // legend in TP5
  if (pi === 4) {
    const leg = g.append('g');
    const legPos = [[128,646],[128,662],[239,646],[239,662]];
    seriesNames.forEach((name, si) => {
      const [lx0, ly0] = legPos[si];
      const l = leg.append('line').attr('x1',lx0).attr('x2',lx0+52).attr('y1',ly0).attr('y2',ly0)
        .attr('stroke',lineColors[si]).attr('stroke-width',3);
      if (dashes[si]) l.attr('stroke-dasharray','14,10');
      leg.append('text').attr('x',lx0+55).attr('y',ly0+5)
        .style('font-family',sansFont).style('font-size','14px').attr('fill','#000').text(name);
    });
  }
});
</script>
</body></html>
